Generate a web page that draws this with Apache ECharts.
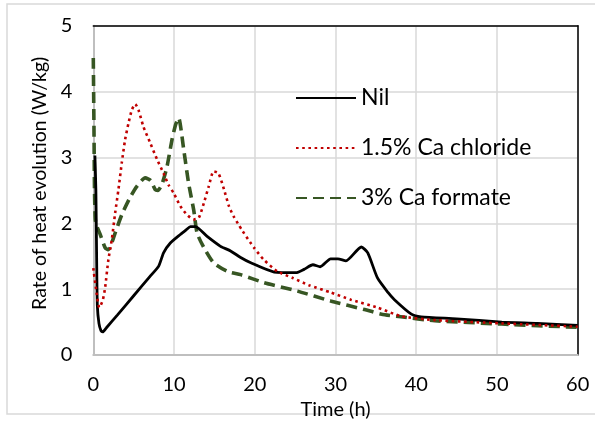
<!DOCTYPE html>
<html>
<head>
<meta charset="utf-8">
<script src="https://cdn.jsdelivr.net/npm/echarts@6/dist/echarts.min.js"></script>
<style>
html,body{margin:0;padding:0;background:#fff;}
#chart{width:595px;height:425px;}
</style>
</head>
<body>
<div id="chart"></div>
<script>
// Series names
var seriesNames = ['Nil', '1.5% Ca chloride', '3% Ca formate'];

// Nil (time h, rate W/kg)
var nilTime = [0.2, 0.32, 0.42, 0.5, 0.7, 0.95, 1.17, 1.6, 3, 5, 7, 8.1, 8.7, 9.54, 10.78, 11.5, 12.03, 12.65, 14.1, 15.76, 17.0, 18.25, 19.5, 22.4, 25.1, 26.1, 27.2, 28.1, 29.4, 30.3, 31.3, 33.2, 34.0, 35.2, 36.5, 37.3, 39.4, 40.6, 45, 50.6, 55, 60];
var nilRate = [3.03, 2.5, 1.4, 0.75, 0.48, 0.37, 0.35, 0.41, 0.61, 0.9, 1.19, 1.35, 1.55, 1.70, 1.83, 1.90, 1.95, 1.95, 1.80, 1.65, 1.58, 1.48, 1.40, 1.26, 1.25, 1.30, 1.37, 1.34, 1.46, 1.46, 1.43, 1.64, 1.55, 1.17, 0.95, 0.84, 0.62, 0.58, 0.55, 0.50, 0.48, 0.45];

// 1.5% Ca chloride
var clTime = [0, 0.34, 0.75, 1.17, 1.46, 1.87, 2.29, 2.7, 3.11, 3.53, 3.94, 4.36, 4.77, 5.19, 5.6, 6.2, 7.05, 7.9, 8.7, 9.33, 9.95, 10.78, 11.6, 12.44, 13.06, 13.7, 14.3, 14.9, 15.5, 16.2, 16.8, 17.4, 18.0, 18.5, 19.9, 21.1, 22.8, 24.7, 26.7, 29.4, 31.9, 35.2, 38.1, 42.3, 50.6, 60];
var clRate = [1.32, 1.0, 0.72, 0.83, 1.02, 1.45, 1.75, 2.15, 2.51, 2.92, 3.27, 3.52, 3.72, 3.81, 3.72, 3.47, 3.22, 2.97, 2.76, 2.58, 2.46, 2.26, 2.13, 2.06, 2.08, 2.31, 2.56, 2.79, 2.76, 2.51, 2.26, 2.1, 1.98, 1.88, 1.63, 1.45, 1.27, 1.17, 1.06, 0.95, 0.84, 0.72, 0.59, 0.53, 0.48, 0.43];

// 3% Ca formate
var fmTime = [0, 0.08, 0.15, 0.25, 0.45, 0.83, 1.46, 1.8, 2.07, 2.7, 3.53, 4.5, 5.4, 6.43, 7.1, 7.67, 8.0, 8.5, 9.13, 9.75, 10.2, 10.57, 11.2, 11.8, 12.44, 12.86, 13.7, 14.9, 16.6, 18.25, 21.1, 25.3, 29.4, 33.6, 35.7, 38.1, 42.3, 50.6, 60];
var fmRate = [4.51, 3.5, 2.5, 2.05, 1.95, 1.84, 1.63, 1.6, 1.63, 1.85, 2.13, 2.38, 2.56, 2.69, 2.65, 2.51, 2.50, 2.59, 2.86, 3.27, 3.5, 3.6, 3.12, 2.61, 2.2, 1.85, 1.63, 1.4, 1.27, 1.22, 1.10, 0.97, 0.82, 0.69, 0.62, 0.58, 0.52, 0.47, 0.42];

// Axis ticks
var xTicks = [0, 10, 20, 30, 40, 50, 60];
var yTicks = [0, 1, 2, 3, 4, 5];

function pairs(t, v) { return t.map(function (x, i) { return [x, v[i]]; }); }

var FONT = 'Lato';
var chart = echarts.init(document.getElementById('chart'), null, {renderer: 'canvas'});
var option = {
  backgroundColor: '#fff',
  animation: false,
  graphic: [{
    type: 'rect', shape: {x: 7, y: 4, width: 700, height: 410},
    style: {fill: 'none', stroke: '#d9d9d9', lineWidth: 1.5}, silent: true, z: -1
  }],
  grid: {left: 93.3, right: 17.3, top: 25.7, bottom: 69.3, containLabel: false},
  legend: {
    orient: 'vertical', left: 290, top: 80,
    itemWidth: 60, itemHeight: 14, itemGap: 24,
    itemStyle: {opacity: 0},
    textStyle: {fontFamily: FONT, fontSize: 23, color: '#000', lineHeight: 26},
    data: seriesNames
  },
  xAxis: [{
    type: 'value', min: xTicks[0], max: xTicks[xTicks.length - 1], interval: 10,
    name: 'Time (h)', nameLocation: 'middle', nameGap: 45,
    nameTextStyle: {fontFamily: FONT, fontSize: 20, color: '#000'},
    axisLine: {show: true, lineStyle: {color: '#bfbfbf', width: 2}},
    axisTick: {show: false},
    axisLabel: {fontFamily: FONT, fontSize: 20, color: '#000', margin: 20},
    splitLine: {show: true, lineStyle: {color: '#d9d9d9', width: 1.5}}
  }, {
    type: 'value', position: 'top', min: 0, max: 60, interval: 10,
    axisLine: {show: true, onZero: false, lineStyle: {color: '#000', width: 1.5}},
    axisTick: {show: false}, axisLabel: {show: false}, splitLine: {show: false}
  }],
  yAxis: [{
    type: 'value', min: yTicks[0], max: yTicks[yTicks.length - 1], interval: 1,
    name: 'Rate of heat evolution (W/kg)', nameLocation: 'middle', nameGap: 41,
    nameTextStyle: {fontFamily: FONT, fontSize: 19.5, color: '#000', padding: [0, 0, 0, 14]},
    axisLine: {show: true, lineStyle: {color: '#bfbfbf', width: 2}},
    axisTick: {show: false},
    axisLabel: {fontFamily: FONT, fontSize: 20, color: '#000', margin: 21},
    splitLine: {show: true, lineStyle: {color: '#d9d9d9', width: 1.5}}
  }, {
    type: 'value', position: 'right', min: 0, max: 5, interval: 1,
    axisLine: {show: true, onZero: false, lineStyle: {color: '#000', width: 1.5}},
    axisTick: {show: false}, axisLabel: {show: false}, splitLine: {show: false}
  }],
  series: [{
    name: seriesNames[0], type: 'line', data: pairs(nilTime, nilRate),
    symbol: 'none', smooth: 0.2, z: 3,
    lineStyle: {color: '#000', width: 2.8, type: 'solid'},
    itemStyle: {color: '#000'}
  }, {
    name: seriesNames[1], type: 'line', data: pairs(clTime, clRate),
    symbol: 'none', smooth: 0.2, z: 4,
    lineStyle: {color: '#c00000', width: 2.6, type: [2.6, 3.6]},
    itemStyle: {color: '#c00000'}
  }, {
    name: seriesNames[2], type: 'line', data: pairs(fmTime, fmRate),
    symbol: 'none', smooth: 0.2, z: 2,
    lineStyle: {color: '#375623', width: 3.6, type: [11, 6]},
    itemStyle: {color: '#375623'}
  }]
};
chart.setOption(option);
</script>
</body>
</html>
